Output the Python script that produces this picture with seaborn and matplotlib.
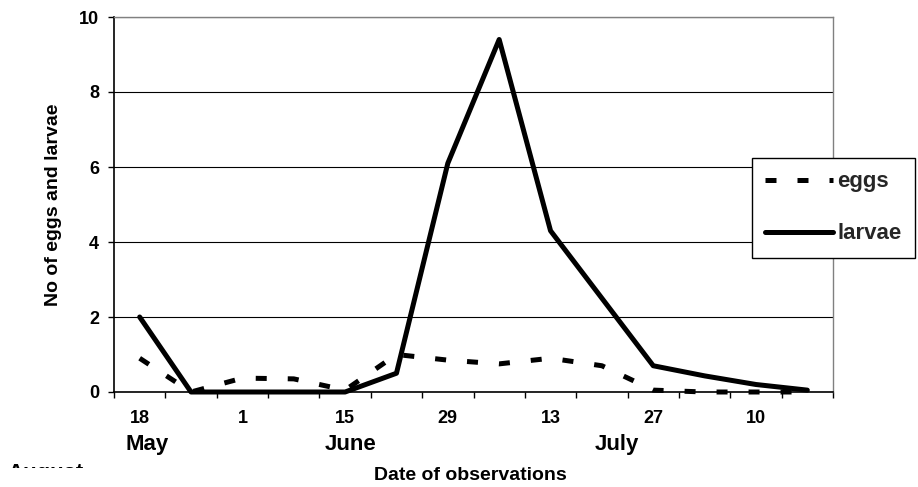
import matplotlib
matplotlib.use('Agg')
import matplotlib.pyplot as plt
import seaborn as sns
import pandas as pd
import numpy as np
from matplotlib.transforms import Bbox, TransformedBbox, blended_transform_factory

# ---- data ----
dates = ['18 May', '25 May', '1 Jun', '8 Jun', '15 Jun', '22 Jun', '29 Jun',
         '6 Jul', '13 Jul', '20 Jul', '27 Jul', '3 Aug', '10 Aug', '17 Aug']
eggs = [0.9, 0.0, 0.37, 0.35, 0.05, 1.0, 0.85, 0.75, 0.9, 0.7, 0.05, 0.0, 0.0, 0.0]
larvae = [2.0, 0.0, 0.0, 0.0, 0.0, 0.5, 6.1, 9.4, 4.3, 2.5, 0.7, 0.43, 0.2, 0.05]
series_names = ['eggs', 'larvae']
day_labels = ['18', '1', '15', '29', '13', '27', '10']
month_labels = ['May', 'June', 'July']
month_dates = ['18 May', '15 Jun', '27 Jul']
y_ticks = [0, 2, 4, 6, 8, 10]

sns.set_theme(style='white')
plt.rcParams['font.family'] = ['Liberation Sans', 'DejaVu Sans']
plt.rcParams['font.weight'] = 'bold'
plt.rcParams['axes.labelweight'] = 'bold'

W, H = 918, 487
fig = plt.figure(figsize=(W / 100, H / 100), dpi=100)
ax = fig.add_axes([114 / W, 1 - 392 / H, 719 / W, 375 / H])

pos = np.arange(len(dates))
df = pd.DataFrame({
    'pos': np.concatenate([pos, pos]),
    'value': eggs + larvae,
    'series': [series_names[0]] * len(dates) + [series_names[1]] * len(dates),
})
sns.lineplot(data=df, x='pos', y='value', style='series', style_order=series_names,
             dashes={'eggs': (2.2, 4.2), 'larvae': ''}, color='black',
             linewidth=3.6, ax=ax, legend=False)

data_lines = [l for l in ax.get_lines() if len(l.get_xdata()) == len(dates)]
for l in data_lines:
    l.set_clip_on(False)
    l.set_zorder(3)

ax.set_xlim(-0.5, len(dates) - 0.5)
ax.set_ylim(0, 10)
ax.set_yticks(y_ticks)
ax.set_yticklabels([str(v) for v in y_ticks])
ax.yaxis.grid(True, color='black', linewidth=0.8)
ax.xaxis.grid(False)
ax.set_axisbelow(True)

ax.set_xticks(pos[::2])
ax.set_xticklabels(day_labels)
ax.set_xticks(np.arange(-0.5, len(dates), 1), minor=True)
ax.tick_params(axis='x', which='major', length=0, pad=13, labelsize=13, colors='black')
ax.tick_params(axis='x', which='minor', bottom=True, length=4.3, width=1, direction='out', color='black')
ax.tick_params(axis='y', which='major', left=True, length=4.3, width=1, direction='out',
               pad=6.5, labelsize=13, color='black', labelcolor='black')

for s in ['left', 'bottom']:
    ax.spines[s].set_color('black')
    ax.spines[s].set_linewidth(1.2)
for s in ['top', 'right']:
    ax.spines[s].set_color('#808080')
    ax.spines[s].set_linewidth(1.0)

ax.set_ylabel('No of eggs and larvae', fontsize=14, fontweight='bold', color='black')
ax.yaxis.set_label_coords(-0.072, 0.5)
ax.set_xlabel('Date of observations', fontsize=14, fontweight='bold', color='black')
ax.xaxis.set_label_coords(0.495, -0.2)

trans = blended_transform_factory(ax.transData, ax.transAxes)
for lbl, d, off in zip(month_labels, month_dates, [0.14, 0.1, -0.7]):
    ax.text(dates.index(d) + off, -0.1547, lbl, transform=trans, ha='center',
            va='baseline', fontsize=16, fontweight='bold', color='black')

t = fig.text(7 / W, 8 / H, 'August', fontsize=16, fontweight='bold',
             ha='left', va='baseline', color='black')
t.set_clip_box(TransformedBbox(Bbox([[0, 19 / H], [1, 1]]), fig.transFigure))
t.set_clip_on(True)

leg = fig.legend(data_lines, series_names, loc='upper left',
                 bbox_to_anchor=(752 / W, 1 - 158 / H), bbox_transform=fig.transFigure,
                 borderaxespad=0, frameon=True, fancybox=False, edgecolor='black',
                 framealpha=1, prop={'size': 16, 'weight': 'bold'},
                 handlelength=3.05, handletextpad=0.2, labelspacing=1.4, borderpad=0.6)
leg.get_frame().set_linewidth(1.0)

fig.savefig('out.png', dpi=100)
